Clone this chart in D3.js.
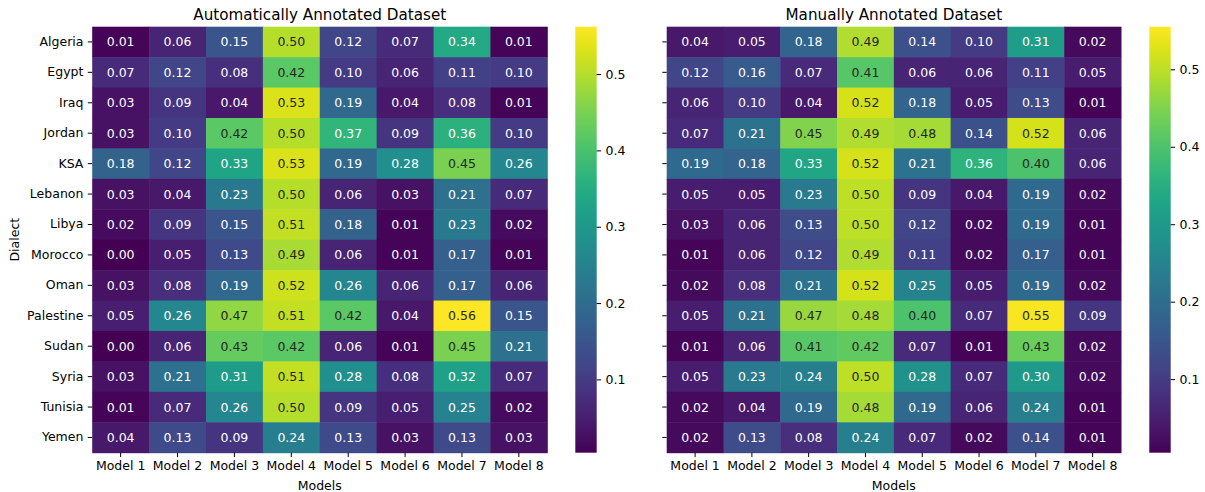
<!DOCTYPE html>
<html><head><meta charset="utf-8">
<script src="https://cdn.jsdelivr.net/npm/d3@7"></script>
<style>body{margin:0;background:#fff}text{font-family:"DejaVu Sans",sans-serif}</style>
</head><body><svg id="c" width="1205" height="492"></svg>
<script>
const dialects = ["Algeria","Egypt","Iraq","Jordan","KSA","Lebanon","Libya","Morocco","Oman","Palestine","Sudan","Syria","Tunisia","Yemen"];
const models = ["Model 1","Model 2","Model 3","Model 4","Model 5","Model 6","Model 7","Model 8"];
const autoValues = [
 [0.01,0.06,0.15,0.50,0.12,0.07,0.34,0.01],
 [0.07,0.12,0.08,0.42,0.10,0.06,0.11,0.10],
 [0.03,0.09,0.04,0.53,0.19,0.04,0.08,0.01],
 [0.03,0.10,0.42,0.50,0.37,0.09,0.36,0.10],
 [0.18,0.12,0.33,0.53,0.19,0.28,0.45,0.26],
 [0.03,0.04,0.23,0.50,0.06,0.03,0.21,0.07],
 [0.02,0.09,0.15,0.51,0.18,0.01,0.23,0.02],
 [0.00,0.05,0.13,0.49,0.06,0.01,0.17,0.01],
 [0.03,0.08,0.19,0.52,0.26,0.06,0.17,0.06],
 [0.05,0.26,0.47,0.51,0.42,0.04,0.56,0.15],
 [0.00,0.06,0.43,0.42,0.06,0.01,0.45,0.21],
 [0.03,0.21,0.31,0.51,0.28,0.08,0.32,0.07],
 [0.01,0.07,0.26,0.50,0.09,0.05,0.25,0.02],
 [0.04,0.13,0.09,0.24,0.13,0.03,0.13,0.03]
];
const manualValues = [
 [0.04,0.05,0.18,0.49,0.14,0.10,0.31,0.02],
 [0.12,0.16,0.07,0.41,0.06,0.06,0.11,0.05],
 [0.06,0.10,0.04,0.52,0.18,0.05,0.13,0.01],
 [0.07,0.21,0.45,0.49,0.48,0.14,0.52,0.06],
 [0.19,0.18,0.33,0.52,0.21,0.36,0.40,0.06],
 [0.05,0.05,0.23,0.50,0.09,0.04,0.19,0.02],
 [0.03,0.06,0.13,0.50,0.12,0.02,0.19,0.01],
 [0.01,0.06,0.12,0.49,0.11,0.02,0.17,0.01],
 [0.02,0.08,0.21,0.52,0.25,0.05,0.19,0.02],
 [0.05,0.21,0.47,0.48,0.40,0.07,0.55,0.09],
 [0.01,0.06,0.41,0.42,0.07,0.01,0.43,0.02],
 [0.05,0.23,0.24,0.50,0.28,0.07,0.30,0.02],
 [0.02,0.04,0.19,0.48,0.19,0.06,0.24,0.01],
 [0.02,0.13,0.08,0.24,0.07,0.02,0.14,0.01]
];
// unrounded data extents (colour range)
const autoRange = [0.004, 0.562];
const manualRange = [0.005, 0.555];
const colorbarTicks = [0.1,0.2,0.3,0.4,0.5];
const titles = ["Automatically Annotated Dataset","Manually Annotated Dataset"];

const svg = d3.select("#c");
const yTop = 26.7, yBottom = 452.7;
const panels = [
  {x0:92.2, x1:547.3, cb0:575.3, cb1:596.7, data:autoValues, range:autoRange, title:titles[0], labels:true},
  {x0:666.7, x1:1121.0, cb0:1149.3, cb1:1170.7, data:manualValues, range:manualRange, title:titles[1], labels:false}
];
function lum(c){
  const r=[c.r,c.g,c.b].map(v=>{v/=255;return v<=0.03928?v/12.92:Math.pow((v+0.055)/1.055,2.4);});
  return 0.2126*r[0]+0.7152*r[1]+0.0722*r[2];
}
const fs = 12.5;
panels.forEach((p,pi)=>{
  const x = d3.scaleBand().domain(models).range([p.x0,p.x1]);
  const y = d3.scaleBand().domain(dialects).range([yTop,yBottom]);
  const color = d3.scaleSequential(d3.interpolateViridis).domain(p.range);
  const g = svg.append("g");
  const cells = [];
  p.data.forEach((row,i)=>row.forEach((v,j)=>cells.push({d:dialects[i],m:models[j],v})));
  g.selectAll("rect.cell").data(cells).join("rect")
    .attr("x",d=>x(d.m)).attr("y",d=>y(d.d))
    .attr("width",x.bandwidth()+0.5).attr("height",y.bandwidth()+0.5)
    .attr("fill",d=>color(d.v));
  g.selectAll("text.ann").data(cells).join("text")
    .attr("x",d=>x(d.m)+x.bandwidth()/2).attr("y",d=>y(d.d)+y.bandwidth()/2)
    .attr("text-anchor","middle").attr("dominant-baseline","central")
    .attr("font-size",fs)
    .attr("fill",d=>lum(d3.rgb(color(d.v)))>0.408?"#262626":"#ffffff")
    .text(d=>d.v.toFixed(2));
  const xa = g.append("g").attr("transform",`translate(0,${yBottom})`)
    .call(d3.axisBottom(x).tickSize(4.4).tickPadding(4.4));
  const ya = g.append("g").attr("transform",`translate(${p.x0},0)`)
    .call(d3.axisLeft(y).tickSize(4.4).tickPadding(4.4).tickFormat(p.labels?null:()=>""));
  [xa,ya].forEach(a=>{a.select(".domain").remove();a.selectAll("text").attr("font-size",fs).attr("font-family","DejaVu Sans").attr("fill","#000");a.selectAll("line").attr("stroke","#000").attr("stroke-width",1);});
  g.append("text").attr("x",(p.x0+p.x1)/2).attr("y",yTop-7).attr("text-anchor","middle")
    .attr("font-size",15.2).text(p.title);
  g.append("text").attr("x",(p.x0+p.x1)/2).attr("y",490).attr("text-anchor","middle")
    .attr("font-size",fs).text("Models");
  if(p.labels){
    g.append("text").attr("transform",`translate(19,${(yTop+yBottom)/2}) rotate(-90)`)
      .attr("text-anchor","middle").attr("font-size",fs).text("Dialect");
  }
  const cy = d3.scaleLinear().domain(p.range).range([yBottom,yTop]);
  const gid = "grad"+pi;
  const grad = svg.append("defs").append("linearGradient").attr("id",gid)
    .attr("x1",0).attr("y1",1).attr("x2",0).attr("y2",0);
  d3.range(0,1.0001,0.05).forEach(t=>grad.append("stop").attr("offset",t)
    .attr("stop-color",color(p.range[0]+t*(p.range[1]-p.range[0]))));
  g.append("rect").attr("x",p.cb0).attr("y",yTop).attr("width",p.cb1-p.cb0).attr("height",yBottom-yTop)
    .attr("fill",`url(#${gid})`);
  const ca = g.append("g").attr("transform",`translate(${p.cb1},0)`)
    .call(d3.axisRight(cy).tickValues(colorbarTicks).tickFormat(d3.format(".1f")).tickSize(4.4).tickPadding(4.4));
  ca.select(".domain").remove();
  ca.selectAll("text").attr("font-size",fs).attr("font-family","DejaVu Sans").attr("fill","#000");
  ca.selectAll("line").attr("stroke","#000").attr("stroke-width",1);
});
</script></body></html>
